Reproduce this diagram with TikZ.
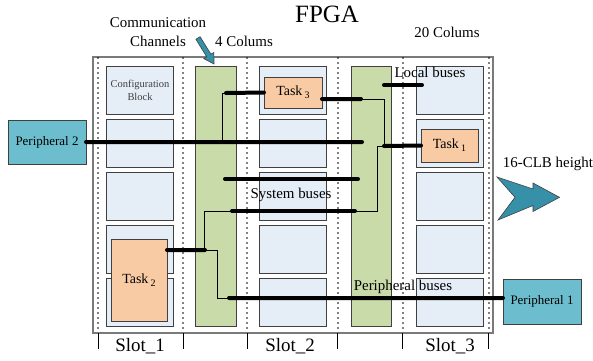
\documentclass[tikz,border=0pt]{standalone}
\usepackage{fontspec}
\setmainfont{Liberation Serif}
\definecolor{clbfill}{HTML}{E5EDF7}
\definecolor{chanfill}{HTML}{C9DBA8}
\definecolor{taskfill}{HTML}{F8CBA4}
\definecolor{perifill}{HTML}{6CBDCD}
\definecolor{arrowteal}{HTML}{3690A8}
\definecolor{edgegray}{HTML}{404040}
\definecolor{framegray}{HTML}{7A7A7A}
\newcommand{\fsz}[2]{\fontsize{#1}{#2}\selectfont}
\newcommand{\tasklabel}[1]{Task\,\raisebox{-0.45ex}{\fsz{10}{10}#1}}
\begin{document}
\begin{tikzpicture}[x=1bp,y=-1bp,
  every node/.style={inner sep=0pt,outer sep=0pt},
  fpgaframe/.style={draw=framegray,line width=1.3bp},
  clb/.style={draw=edgegray,fill=clbfill,line width=0.8bp,minimum width=67.5bp,minimum height=48bp,anchor=north west},
  chan/.style={draw=edgegray,fill=chanfill,line width=0.8bp,anchor=north west,minimum height=260bp},
  taskbox/.style={draw=edgegray,fill=taskfill,line width=0.8bp,anchor=north west,font=\fsz{14}{16}},
  peri/.style={draw=edgegray,fill=perifill,line width=0.8bp,anchor=north west,font=\fsz{13}{15}},
  colsep/.style={line width=1.7bp,line cap=round,dash pattern=on 0bp off 5bp},
  bus/.style={line width=4bp,line cap=round},
  link/.style={line width=0.9bp},
  slottick/.style={line width=0.8bp},
  lbl/.style={font=\fsz{15}{19}},
  slotlbl/.style={font=\fsz{19}{21}},
  blockarrow/.style={fill=arrowteal,draw=edgegray,line width=0.6bp,line join=miter}
]
\useasboundingbox (0,0) rectangle (593,360);

% FPGA outline
\node[fpgaframe,anchor=north west,minimum width=400bp,minimum height=276bp] (fpga) at (93,57) {};

% communication channels
\node[chan,minimum width=41bp] (ch1) at (195,66) {};
\node[chan,minimum width=40bp] (ch2) at (351,66) {};

% CLB rows in the three slots
\foreach \c/\x in {1/106,2/259,3/416}
  \foreach \r/\y in {1/66,2/119,3/172,4/225,5/278}
    \node[clb] (b\c\r) at (\x,\y) {};
\node[align=center,text=edgegray,font=\fsz{10.5}{13}] (cfg) at (140,90) {Configuration\\Block};

% column separators
\foreach \x in {98,183,247,338,403,489}
  \draw[colsep] (\x,58) -- (\x,332);

% tasks
\node[taskbox,minimum width=58bp,minimum height=31bp] (task3) at (264,77) {\tasklabel{3}};
\node[taskbox,minimum width=57bp,minimum height=33bp] (task1) at (421,129) {\tasklabel{1}};
\node[taskbox,minimum width=56bp,minimum height=82bp] (task2) at (111,239) {\tasklabel{2}};

% peripherals
\node[peri,minimum width=78bp,minimum height=44bp] (p2) at (8,120) {Peripheral 2};
\node[peri,minimum width=78bp,minimum height=45bp] (p1) at (503,279) {Peripheral 1};

% bus end points and junctions
\coordinate (b1e) at (362,142);
\coordinate (j1) at (222,142);
\coordinate (j2) at (222,93);
\coordinate (l3s) at (226,93);
\coordinate (l3e) at (361,99);
\coordinate (j3) at (384,99);
\coordinate (j4) at (384,146);
\coordinate (j5) at (377,146);
\coordinate (j6) at (377,211);
\coordinate (s2e) at (355,211);
\coordinate (s2s) at (232,211);
\coordinate (j7) at (204,211);
\coordinate (t2e) at (205,250);
\coordinate (j8) at (204,250);
\coordinate (j9) at (217,250);
\coordinate (j10) at (217,298);
\coordinate (pbs) at (229,298);
\coordinate (s1s) at (225,179);
\coordinate (s1e) at (358,179);
\coordinate (lbs) at (384,85);
\coordinate (lbe) at (422,85);

% thin links
\draw[link] (j1) -- (j2) -- (l3s);
\draw[link] (l3e) -- (j3) -- (j4);
\draw[link] (j4) -- (j5) -- (j6) -- (s2e);
\draw[link] (s2s) -- (j7) -- (j8);
\draw[link] (t2e) -- (j9) -- (j10) -- (pbs);

% buses
\draw[bus] (p2.east) -- (b1e);
\draw[bus] (l3s) -- (task3.west);
\draw[bus] ([yshift=-6.5bp]task3.east) -- (l3e);
\draw[bus] (j4) -- (task1.west);
\draw[bus] (s2s) -- (s2e);
\draw[bus] ([yshift=30bp]task2.east) -- (t2e);
\draw[bus] (pbs) -- ([yshift=3.5bp]p1.west);
\draw[bus] (s1s) -- (s1e);
\draw[bus] (lbs) -- (lbe);

% slot ticks
\foreach \x in {98,183,247,337,402,488}
  \draw[slottick] (\x,333) -- (\x,349);

% labels
\node[font=\fsz{25}{27}] (title) at (327,14) {FPGA};
\node[lbl,align=center] (cc) at (158,32) {Communication\\Channels};
\node[lbl] (four) at (244,41) {4 Colums};
\node[lbl] (twenty) at (447,32) {20 Colums};
\node[lbl] (local) at (430,72) {Local buses};
\node[lbl] (sys) at (291,195) {System buses};
\node[lbl] (pbus) at (403,287) {Peripheral buses};
\node[lbl] (height) at (548,164) {16-CLB height};
\node[slotlbl] (slot1) at (140,346) {Slot\_1};
\node[slotlbl] (slot2) at (290,346) {Slot\_2};
\node[slotlbl] (slot3) at (450,346) {Slot\_3};

% pointer to the channel column
\draw[blockarrow] (200.1,36.7) -- (210.9,54.2) -- (213.9,52.4) -- (214,64) -- (203.7,58.6) -- (206.7,56.8) -- (195.9,39.3) -- cycle;

% height arrow
\draw[blockarrow] (497,177) -- (533,189) -- (533,183) -- (559.5,197.3) -- (533,211.5) -- (533,205.5) -- (498,220) -- (515,197.3) -- cycle;
\end{tikzpicture}
\end{document}
